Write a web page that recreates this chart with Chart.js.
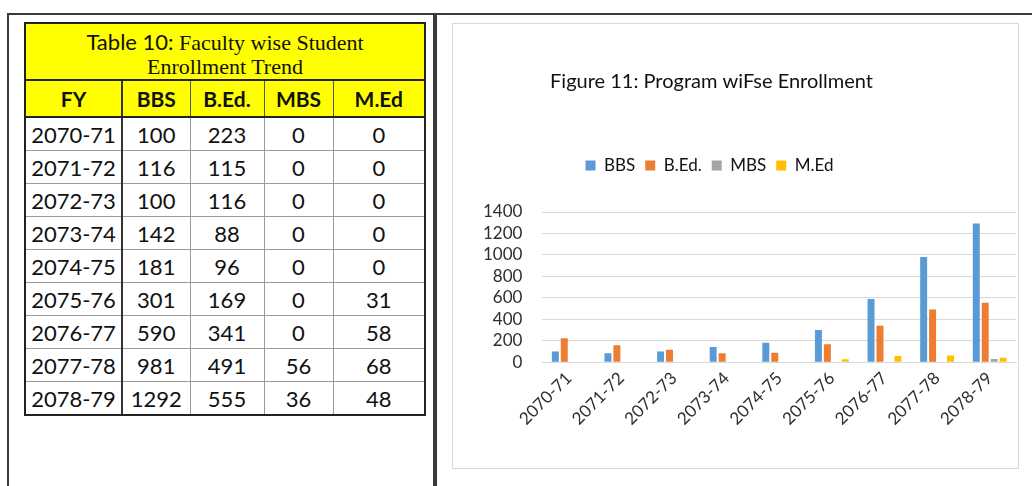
<!DOCTYPE html>
<html>
<head>
<meta charset="utf-8">
<script src="https://cdn.jsdelivr.net/npm/chart.js@4.4.1/dist/chart.umd.min.js"></script>
<style>
  html, body { margin: 0; padding: 0; background: #fff; }
  body { width: 1032px; height: 486px; position: relative; overflow: hidden; font-family: Lato, "Open Sans", sans-serif; }
  #leftPanel { position: absolute; left: 7px; top: 13px; width: 424px; height: 490px; border: 2px solid #3a3a3a; border-bottom: none; }
  #rightPanel { position: absolute; left: 435px; top: 13px; width: 620px; height: 490px; border-left: 2px solid #3a3a3a; border-top: 2px solid #3a3a3a; }
  #tbl { position: absolute; left: 24px; top: 22px; border-collapse: collapse; table-layout: fixed; width: 400px; }
  #tbl td, #tbl th { padding: 0; text-align: center; color: #111; }
  #tbl .title { background: #ffff00; height: 50px; font-family: "Liberation Serif", "Times New Roman", serif; font-size: 22px; font-weight: normal; border: 2px solid #222; padding: 5px 0 0 0; vertical-align: top; }
  #tbl .title .l { height: 25px; line-height: 25px; overflow: visible; white-space: nowrap; }
  #tbl .title .sans { font-family: Lato, sans-serif; }
  #tbl .hdr th { background: #ffff00; height: 35px; font-size: 21px; font-weight: bold; border: 1px solid #555; border-top: 2px solid #222; border-bottom: 2px solid #222; }
  #tbl .hdr th:first-child { border-left: 2px solid #222; border-right: 2px solid #333; }
  #tbl .hdr th:last-child { border-right: 2px solid #222; }
  #tbl tbody td { height: 32px; font-size: 22px; border: 1px solid #9a9a9a; }
  #tbl tbody td:first-child { border-left: 2px solid #222; border-right: 2px solid #333; }
  #tbl tbody td:last-child { border-right: 2px solid #222; }
  #tbl tbody tr:last-child td { border-bottom: 2px solid #222; }
  #chartBox { position: absolute; left: 452px; top: 23px; width: 565px; height: 444px; border: 1px solid #d9d9d9; }
  #chartBox canvas { display: block; }
</style>
</head>
<body>
<div id="leftPanel"></div>
<div id="rightPanel"></div>
<table id="tbl">
  <colgroup><col style="width:97px"><col style="width:68px"><col style="width:74px"><col style="width:69px"><col style="width:92px"></colgroup>
  <thead>
    <tr><th class="title" colspan="5"><div class="l"><span class="sans">Table 10:</span> Faculty wise Student</div><div class="l">Enrollment Trend</div></th></tr>
    <tr class="hdr"><th>FY</th><th>BBS</th><th>B.Ed.</th><th>MBS</th><th>M.Ed</th></tr>
  </thead>
  <tbody id="tbody"></tbody>
</table>
<div id="chartBox"><canvas id="chart" width="565" height="444"></canvas></div>
<script>
// ---- Table data (as printed in Table 10) ----
const tableYears = ["2070-71","2071-72","2072-73","2073-74","2074-75","2075-76","2076-77","2077-78","2078-79"];
const tableBBS  = [100, 116, 100, 142, 181, 301, 590, 981, 1292];
const tableBEd  = [223, 115, 116, 88, 96, 169, 341, 491, 555];
const tableMBS  = [0, 0, 0, 0, 0, 0, 0, 56, 36];
const tableMEd  = [0, 0, 0, 0, 0, 31, 58, 68, 48];

// ---- Chart data (as drawn in Figure 11) ----
const categories = ["2070-71","2071-72","2072-73","2073-74","2074-75","2075-76","2076-77","2077-78","2078-79"];
const bbsValues  = [100, 85, 100, 142, 181, 301, 590, 981, 1292];
const bedValues  = [223, 158, 116, 85, 88, 169, 341, 491, 555];
const mbsValues  = [0, 0, 0, 0, 0, 0, 0, 0, 30];
const medValues  = [0, 0, 0, 0, 0, 28, 58, 62, 42];
const yTicks     = [0, 200, 400, 600, 800, 1000, 1200, 1400];

const tbody = document.getElementById('tbody');
tableYears.forEach((y, i) => {
  const tr = document.createElement('tr');
  [y, tableBBS[i], tableBEd[i], tableMBS[i], tableMEd[i]].forEach(v => {
    const td = document.createElement('td');
    td.textContent = v;
    tr.appendChild(td);
  });
  tbody.appendChild(tr);
});

const layoutTweaks = {
  id: 'layoutTweaks',
  beforeInit(chart) {
    const lg = chart.legend;
    const origFit = lg.fit;
    lg.fit = function () { origFit.call(this); this.height += 28; };
    const shift = (box, dx) => {
      const origDraw = box.draw;
      box.draw = function (...args) {
        const ctx = this.ctx || chart.ctx;
        ctx.save(); ctx.translate(dx, 0);
        origDraw.apply(this, args);
        ctx.restore();
      };
    };
    shift(lg, -30);
    if (chart.titleBlock) shift(chart.titleBlock, -28);
  }
};

const textColor = '#2e2e2e';
new Chart(document.getElementById('chart'), {
  type: 'bar',
  data: {
    labels: categories,
    datasets: [
      { label: 'BBS',   data: bbsValues, backgroundColor: '#5B9BD5' },
      { label: 'B.Ed.', data: bedValues, backgroundColor: '#ED7D31' },
      { label: 'MBS',   data: mbsValues, backgroundColor: '#A5A5A5' },
      { label: 'M.Ed',  data: medValues, backgroundColor: '#FFC000' }
    ]
  },
  plugins: [layoutTweaks],
  options: {
    responsive: false,
    animation: false,
    devicePixelRatio: 1,
    layout: { padding: { left: 10, right: 2, top: 0, bottom: 33 } },
    datasets: { bar: { categoryPercentage: 0.68, barPercentage: 0.78 } },
    plugins: {
      title: {
        display: true,
        text: 'Figure 11: Program wiFse Enrollment',
        color: '#111',
        font: { family: 'Lato', size: 20, weight: 'normal' },
        padding: { top: 46, bottom: 53 }
      },
      legend: {
        display: true,
        position: 'top',
        labels: {
          color: '#111',
          font: { family: 'Lato', size: 17 },
          boxWidth: 10, boxHeight: 10,
          padding: 10
        }
      },
      tooltip: { enabled: false }
    },
    scales: {
      x: {
        grid: { display: false, drawTicks: false },
        border: { display: true, color: '#d9d9d9' },
        ticks: {
          color: textColor,
          font: { family: 'Lato', size: 17 },
          minRotation: 45, maxRotation: 45,
          autoSkip: false,
          padding: 6
        }
      },
      y: {
        min: 0, max: 1400,
        afterBuildTicks(scale) { scale.ticks = yTicks.map(v => ({ value: v })); },
        grid: { color: '#d9d9d9', drawTicks: false },
        border: { display: false },
        ticks: {
          color: textColor,
          font: { family: 'Lato', size: 17, lineHeight: 1 },
          padding: 20,
          autoSkip: false,
          callback: v => String(v)
        }
      }
    }
  }
});
</script>
</body>
</html>
